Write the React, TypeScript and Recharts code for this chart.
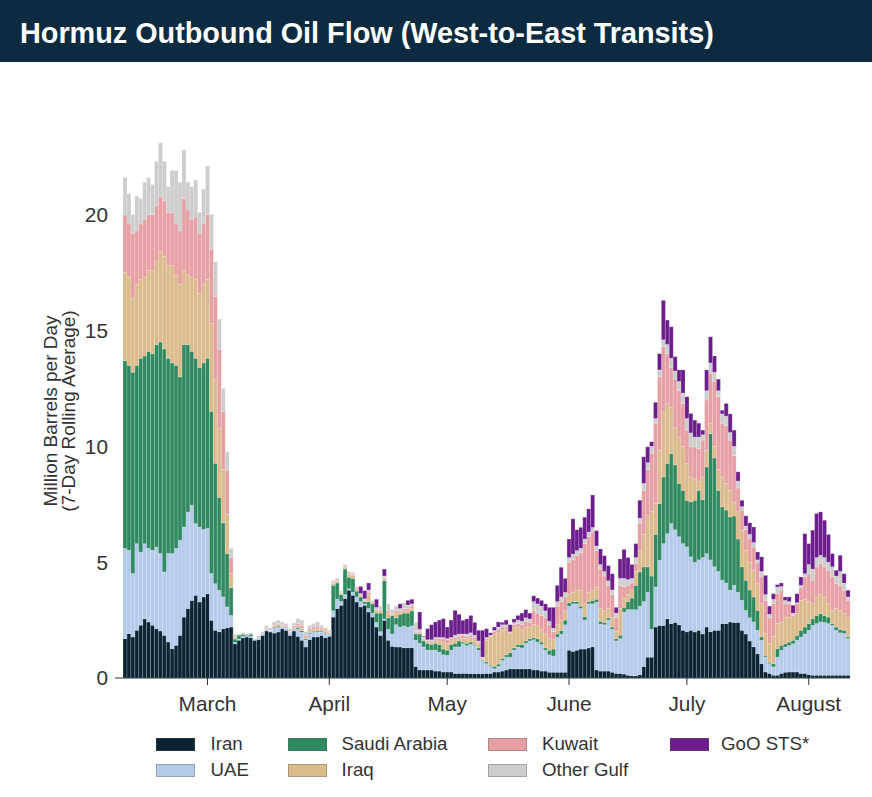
import React from 'react';
import { BarChart, Bar, XAxis, YAxis } from 'recharts';

const FONT = '"Liberation Sans", Arial, Helvetica, sans-serif';

// ---------- categories (one bar per day, Feb 8 -> Aug 11) ----------
const firstDay = Date.UTC(2026, 1, 8);
const dayCount = 185;
const dates: string[] = Array.from({ length: dayCount }, (_, i) =>
  new Date(firstDay + i * 86400000).toISOString().slice(0, 10)
);

const monthTicks = ['2026-03-01', '2026-04-01', '2026-05-01', '2026-06-01', '2026-07-01', '2026-08-01'];
const monthLabels = ['March', 'April', 'May', 'June', 'July', 'August'];
const yTicks = [0, 5, 10, 15, 20];

// ---------- series values (million b/d, 7-day rolling average) ----------
const iran = [
  1.70, 1.92, 1.77, 2.06, 2.28, 2.56, 2.42, 2.28, 2.13, 2.03, 1.84, 1.56, 1.27, 1.41, 1.84, 2.63, 3.00, 3.35, 3.57, 3.28, 3.50, 3.64,
  2.49, 2.06, 2.00, 2.13, 2.17, 2.20, 1.48,
  1.63, 1.74, 1.77, 1.74, 1.63, 1.66, 1.84, 2.03, 1.99, 1.94, 1.99, 2.13, 2.06, 1.84, 2.03, 1.80, 1.63, 1.34, 1.66, 1.77, 1.77, 1.84, 1.74, 1.80,
  2.63, 3.00, 3.14, 3.43, 3.79, 3.57, 3.28, 3.07, 3.14, 2.85, 2.63, 2.20, 1.84, 2.49, 1.63, 1.37, 1.34, 1.34, 1.31, 1.31, 1.31,
  0.50, 0.35, 0.35, 0.35, 0.35, 0.30, 0.30, 0.26, 0.26, 0.26, 0.20, 0.20, 0.20, 0.20, 0.19, 0.19, 0.19, 0.19, 0.20, 0.20, 0.26, 0.26, 0.30, 0.35, 0.40, 0.40, 0.40,
  0.40, 0.40, 0.40, 0.35, 0.35, 0.30, 0.30, 0.25, 0.25, 0.25, 0.25, 0.25, 1.20, 1.15, 1.20, 1.25, 1.25, 1.30, 1.35, 0.35, 0.30, 0.30, 0.30, 0.25, 0.20, 0.20,
  0.17, 0.12, 0.10, 0.10, 0.15, 0.50, 0.90, 0.90, 2.20, 2.27, 2.27, 2.56, 2.35, 2.40, 2.30, 2.06, 2.00, 2.06, 1.99, 2.06, 1.90, 2.20, 2.00, 2.06, 2.06, 2.35, 2.35, 2.42, 2.40, 2.40, 2.06, 1.90, 1.60, 1.35, 1.05,
  0.62, 0.26, 0.20, 0.12, 0.12, 0.20, 0.25, 0.26, 0.26, 0.26, 0.20, 0.20, 0.15, 0.12, 0.12, 0.12, 0.12, 0.12, 0.12, 0.12, 0.12, 0.12, 0.12,
];

const uae = [
  3.89, 3.59, 2.74, 3.74, 3.16, 3.24, 3.17, 3.23, 3.53, 3.34, 2.74, 3.81, 4.10, 4.18, 4.11, 3.89, 4.17, 4.11, 3.10, 3.24, 2.91, 2.81,
  2.02, 2.01, 1.79, 1.37, 0.90, 0.50, 0.05,
  0.05, 0.05, 0.03, 0.05, 0.02, 0.08, 0.06, 0.10, 0.06, 0.20, 0.20, 0.10, 0.10, 0.12, 0.12, 0.30, 0.35, 0.30, 0.25, 0.20, 0.22, 0.15, 0.15, 0.10,
  0.27, 0.40, 0.16, 0.17, 0.06, 0.13, 0.22, 0.23, 0.06, 0.15, 0.17, 0.20, 0.16, 0.06, 0.47, 0.53, 0.96, 0.86, 0.94, 0.89, 0.94,
  1.13, 1.15, 0.99, 0.85, 0.85, 0.90, 0.82, 0.74, 0.72, 0.94, 1.14, 1.14, 1.28, 1.20, 1.26, 1.21, 1.01, 0.57, 0.42, 0.30, 0.14, 0.24, 0.46, 0.55, 0.50, 0.80, 0.94,
  0.90, 1.10, 1.20, 1.30, 1.20, 1.15, 0.90, 0.75, 0.70, 1.51, 1.65, 2.05, 1.90, 2.05, 2.00, 1.75, 1.25, 1.90, 1.85, 2.92, 2.03, 2.00, 2.20, 1.85, 1.40, 1.50,
  2.68, 2.83, 2.85, 2.85, 2.95, 2.80, 2.80, 1.20, 1.73, 2.81, 3.53, 3.67, 4.32, 4.00, 3.80, 3.74, 3.66, 3.17, 3.00, 3.04, 3.30, 3.17, 3.10, 2.74, 2.54, 1.87, 1.75, 1.37, 1.60, 1.30, 1.29, 1.02, 1.00, 1.07, 1.01,
  1.01, 0.64, 0.42, 0.36, 0.78, 1.00, 1.09, 1.14, 1.22, 1.37, 1.57, 1.70, 1.91, 2.15, 2.23, 2.30, 2.28, 2.23, 2.15, 1.94, 1.83, 1.80, 1.58,
];

const saudiArabia = [
  8.11, 7.99, 8.69, 7.70, 8.36, 8.10, 8.51, 8.49, 8.74, 9.13, 9.62, 8.43, 8.23, 7.91, 7.05, 7.88, 7.23, 6.64, 7.13, 6.88, 7.19, 7.35,
  7.00, 5.20, 4.00, 3.20, 2.30, 1.20, 0.15,
  0.17, 0.10, 0.05, 0.10, 0.00, 0.00, 0.00, 0.00, 0.00, 0.05, 0.05, 0.00, 0.00, 0.00, 0.00, 0.06, 0.07, 0.05, 0.05, 0.05, 0.05, 0.04, 0.04, 0.00,
  1.10, 0.70, 0.30, 1.10, 0.50, 0.60, 0.25, 0.20, 0.10, 0.30, 0.40, 0.40, 0.80, 1.65, 0.50, 0.80, 0.30, 0.55, 0.55, 0.60, 0.65,
  0.27, 0.40, 0.26, 0.30, 0.25, 0.30, 0.33, 0.25, 0.22, 0.25, 0.16, 0.26, 0.07, 0.10, 0.10, 0.05, 0.10, 0.04, 0.08, 0.05, 0.10, 0.10, 0.09, 0.10, 0.20, 0.10, 0.11,
  0.15, 0.10, 0.10, 0.10, 0.15, 0.10, 0.10, 0.20, 0.30, 0.14, 0.15, 0.20, 0.15, 0.10, 0.10, 0.10, 0.15, 0.10, 0.15, 0.13, 0.12, 0.10, 0.10, 0.10, 0.10, 0.15,
  0.20, 0.35, 0.50, 1.05, 1.48, 1.50, 1.10, 2.30, 2.27, 2.45, 2.88, 3.03, 3.02, 2.80, 2.30, 2.30, 2.01, 2.37, 2.68, 3.00, 2.50, 3.74, 5.45, 4.70, 3.50, 3.17, 3.15, 3.16, 3.00, 2.30, 1.45, 1.30, 1.20, 1.08, 0.86,
  0.14, 0.05, 0.06, 0.14, 0.37, 0.21, 0.14, 0.15, 0.15, 0.21, 0.29, 0.30, 0.29, 0.29, 0.35, 0.36, 0.30, 0.28, 0.08, 0.14, 0.15, 0.14, 0.07,
];

const iraq = [
  3.8, 3.8, 3.2, 3.5, 3.4, 3.4, 3.5, 3.6, 3.6, 3.9, 4.0, 4.0, 4.2, 3.9, 4.0, 3.2, 3.0, 3.2, 3.4, 3.2, 3.4, 3.4,
  3.8, 3.6, 3.0, 2.3, 1.7, 0.6, 0.05,
  0.00, 0.00, 0.00, 0.00, 0.00, 0.00, 0.04, 0.04, 0.03, 0.05, 0.06, 0.05, 0.05, 0.05, 0.06, 0.10, 0.10, 0.08, 0.08, 0.10, 0.10, 0.08, 0.08, 0.05,
  0.08, 0.07, 0.05, 0.08, 0.12, 0.12, 0.08, 0.05, 0.04, 0.30, 0.05, 0.10, 0.10, 0.10, 0.20, 0.05, 0.20, 0.10, 0.10, 0.10, 0.10,
  0.05, 0.05, 0.05, 0.05, 0.10, 0.10, 0.15, 0.30, 0.30, 0.15, 0.15, 0.10, 0.15, 0.20, 0.20, 0.20, 0.20, 0.05, 0.93, 1.22, 1.40, 1.35, 1.21, 1.10, 0.80, 0.90, 0.75,
  0.65, 0.60, 0.50, 0.55, 0.55, 0.55, 0.60, 0.50, 0.40, 0.40, 0.45, 0.40, 0.35, 0.40, 0.50, 0.70, 0.55, 0.40, 0.45, 0.50, 0.55, 0.50, 0.40, 0.40, 0.30, 1.15,
  0.40, 0.30, 0.35, 0.60, 0.92, 1.40, 2.20, 2.80, 1.33, 2.30, 2.80, 2.60, 2.00, 1.60, 2.00, 1.90, 1.59, 1.08, 0.93, 0.40, 0.98, 0.72, 0.45, 0.50, 0.90, 1.29, 1.15, 1.15, 0.60, 1.20, 1.58, 1.29, 1.20, 1.15, 1.15,
  1.44, 0.97, 0.82, 1.18, 1.08, 0.99, 1.15, 1.08, 1.07, 0.94, 1.29, 1.20, 0.95, 0.65, 0.80, 0.82, 0.80, 0.58, 0.57, 0.80, 0.80, 0.72, 0.86,
];

const kuwait = [
  2.5, 2.3, 2.8, 2.3, 2.4, 2.5, 2.4, 2.4, 2.4, 2.4, 2.4, 2.3, 2.3, 2.2, 2.3, 3.1, 2.8, 2.5, 2.7, 2.6, 2.6, 2.8,
  3.2, 3.6, 3.4, 2.5, 1.9, 0.7, 0.05,
  0.00, 0.00, 0.00, 0.00, 0.00, 0.00, 0.00, 0.03, 0.00, 0.04, 0.05, 0.04, 0.04, 0.00, 0.05, 0.10, 0.10, 0.08, 0.08, 0.08, 0.10, 0.06, 0.06, 0.03,
  0.05, 0.05, 0.03, 0.05, 0.05, 0.05, 0.05, 0.03, 0.03, 0.10, 0.03, 0.05, 0.05, 0.05, 0.10, 0.05, 0.10, 0.05, 0.10, 0.10, 0.10,
  0.05, 0.05, 0.05, 0.05, 0.05, 0.10, 0.10, 0.15, 0.15, 0.10, 0.10, 0.10, 0.15, 0.10, 0.10, 0.10, 0.05, 0.03, 0.07, 0.03, 0.10, 0.15, 0.14, 0.10, 0.05, 0.10, 0.15,
  0.20, 0.25, 0.20, 0.60, 0.55, 0.60, 0.70, 0.60, 0.35, 0.80, 0.80, 0.60, 1.40, 1.40, 1.50, 1.60, 2.60, 2.40, 2.50, 1.60, 1.70, 1.50, 1.00, 1.00, 0.60, 1.00,
  0.50, 0.40, 0.30, 0.35, 1.17, 1.90, 2.00, 2.50, 3.47, 3.17, 2.82, 2.14, 1.71, 2.10, 2.00, 1.85, 1.44, 1.30, 1.38, 1.40, 1.59, 2.17, 2.15, 2.80, 3.14, 2.32, 2.50, 2.17, 2.00, 1.00, 0.86, 0.90, 1.00, 1.00, 0.90,
  1.15, 1.43, 1.10, 1.41, 1.29, 1.39, 0.57, 0.57, 0.05, 0.43, 0.55, 0.96, 1.20, 1.01, 1.30, 1.34, 1.30, 1.44, 1.44, 1.07, 1.10, 1.01, 0.72,
];

const otherGulf = [
  1.6, 1.3, 0.8, 1.5, 1.1, 1.6, 1.6, 1.3, 1.9, 2.3, 1.7, 1.1, 1.8, 2.3, 2.1, 2.1, 1.2, 1.4, 1.6, 0.9, 1.5, 2.1,
  1.5, 1.5, 1.3, 1.0, 0.8, 0.4, 0.10,
  0.05, 0.06, 0.05, 0.06, 0.05, 0.10, 0.06, 0.07, 0.09, 0.14, 0.15, 0.10, 0.10, 0.12, 0.12, 0.20, 0.25, 0.15, 0.15, 0.15, 0.18, 0.10, 0.10, 0.08,
  0.07, 0.08, 0.07, 0.07, 0.08, 0.08, 0.07, 0.07, 0.05, 0.10, 0.05, 0.10, 0.15, 0.05, 0.30, 0.15, 0.20, 0.10, 0.25, 0.15, 0.10,
  0.40, 0.10, 0.07, 0.05, 0.05, 0.05, 0.05, 0.05, 0.05, 0.05, 0.10, 0.10, 0.05, 0.10, 0.10, 0.10, 0.05, 0.02, 0.05, 0.05, 0.05, 0.10, 0.10, 0.10, 0.05, 0.10, 0.15,
  0.15, 0.15, 0.15, 0.40, 0.40, 0.40, 0.30, 0.15, 0.15, 0.20, 0.20, 0.20, 0.20, 0.25, 0.20, 0.20, 0.20, 0.20, 0.20, 0.20, 0.20, 0.20, 0.20, 0.20, 0.20, 0.30,
  0.35, 0.25, 0.20, 0.25, 0.23, 0.30, 0.30, 0.30, 0.20, 0.30, 0.30, 0.40, 0.40, 0.35, 0.40, 0.45, 0.50, 0.60, 0.42, 0.50, 0.23, 0.40, 0.45, 0.40, 0.26, 0.40, 0.40, 0.33, 0.40, 0.30, 0.16, 0.15, 0.20, 0.20, 0.13,
  0.24, 0.25, 0.15, 0.19, 0.29, 0.16, 0.15, 0.10, 0.05, 0.04, 0.10, 0.14, 0.40, 0.48, 0.40, 0.36, 0.40, 0.35, 0.44, 0.33, 0.60, 0.31, 0.15,
];

const gooSts = [
  0, 0, 0, 0, 0, 0, 0, 0, 0, 0, 0, 0, 0, 0, 0, 0, 0, 0, 0, 0, 0, 0,
  0, 0, 0, 0, 0, 0, 0,
  0, 0, 0, 0, 0, 0, 0, 0, 0, 0, 0, 0, 0, 0, 0, 0, 0, 0, 0, 0, 0, 0, 0, 0,
  0, 0, 0, 0, 0, 0, 0, 0.30, 0.35, 0.30, 0, 0.35, 0, 0.30, 0, 0, 0, 0.20, 0, 0.20, 0.20,
  0, 0.75, 0.03, 0.48, 0.65, 0.67, 0.75, 0.81, 0.50, 0.75, 1.07, 0.85, 0.59, 0.65, 0.75, 0.55, 0.46, 1.16, 0.38, 0.10, 0.15, 0.22, 0.10, 0.20, 0.30, 0.15, 0.20,
  0.35, 0.35, 0.25, 0.25, 0.25, 0.25, 0.30, 0.60, 0.90, 0.70, 1.28, 0.60, 0.80, 1.52, 0.90, 0.90, 0.94, 1.00, 1.40, 0.66, 0.67, 0.68, 0.65, 0.70, 0.25, 0.84,
  1.25, 0.95, 0.60, 0.60, 0.77, 1.15, 0.68, 0.20, 0.70, 0.70, 1.70, 1.05, 1.36, 0.62, 0.50, 1.00, 0.94, 0.84, 0.73, 0.60, 0.20, 0.90, 1.13, 0.70, 0.50, 0.16, 0.55, 0.80, 0.70, 0.40, 0.27, 0.44, 0.50, 0.67, 0.34,
  0.63, 0.83, 0.35, 0.24, 0.10, 0.15, 0.15, 0.20, 0.34, 0.39, 0.36, 1.73, 0.90, 1.68, 1.90, 1.87, 1.61, 1.20, 0.57, 0.25, 0.70, 0.40, 0.29,
];

const seriesNames = ['Iran', 'UAE', 'Saudi Arabia', 'Iraq', 'Kuwait', 'Other Gulf', 'GoO STS*'];
const seriesKeys = ['iran', 'uae', 'saudi', 'iraq', 'kuwait', 'other', 'goo'];
const seriesColors = ['#0b2434', '#b3caeb', '#2f8a60', '#dbbb8b', '#e69fa3', '#cdcdcd', '#6b1d8c'];
const seriesValues = [iran, uae, saudiArabia, iraq, kuwait, otherGulf, gooSts];

// table for the library
const data = dates.map((date, i) => {
  const row: Record<string, number | string> = { date };
  seriesKeys.forEach((k, s) => {
    row[k] = seriesValues[s][i] ?? 0;
  });
  return row;
});

const monthName: Record<string, string> = {};
monthTicks.forEach((t, i) => {
  monthName[t] = monthLabels[i];
});

// legend arrangement (column-major, like the reference)
const legendColumns = [[0, 1], [2, 3], [4, 5], [6]];

const YLabel = (props: any) => {
  const vb = props && props.viewBox ? props.viewBox : { y: 122, height: 556 };
  const cy = vb.y + vb.height / 2 + 11;
  const common = {
    textAnchor: 'middle' as const,
    dominantBaseline: 'central' as const,
    fontSize: 19,
    fill: '#333333',
    fontFamily: FONT,
  };
  return (
    <g>
      <text x={50} y={cy} transform={`rotate(-90, 50, ${cy})`} {...common}>
        Million Barrels per Day
      </text>
      <text x={68.5} y={cy} transform={`rotate(-90, 68.5, ${cy})`} {...common}>
        (7-Day Rolling Average)
      </text>
    </g>
  );
};

export default function App() {
  const colSwatchX = [156, 287.5, 488, 669.5];
  const colTextX = [210.5, 341.5, 542, 721];
  const rowY = [744, 770];

  return (
    <div
      style={{
        position: 'absolute',
        left: 0,
        top: 0,
        width: 872,
        height: 797,
        background: '#ffffff',
        overflow: 'hidden',
        fontFamily: FONT,
      }}
    >
      <div style={{ position: 'absolute', left: 0, top: 0 }}>
        <BarChart
          width={872}
          height={797}
          data={data}
          margin={{ top: 122, right: 22, bottom: 89, left: 0 }}
          barCategoryGap={0}
          barGap={0}
        >
          <XAxis
            dataKey="date"
            ticks={monthTicks}
            interval={0}
            tickFormatter={(v: string) => monthName[v] ?? ''}
            height={30}
            padding={{ left: 8, right: 0 }}
            tickSize={7}
            tickMargin={11}
            tick={{ fontSize: 20.8, fill: '#333333', fontFamily: FONT }}
            axisLine={{ stroke: '#333333', strokeWidth: 1 }}
            tickLine={{ stroke: '#333333', strokeWidth: 1 }}
          />
          <YAxis
            type="number"
            domain={[0, 24]}
            ticks={yTicks}
            width={115}
            axisLine={false}
            tickLine={false}
            tickSize={5}
            tickMargin={2}
            allowDataOverflow
            tick={{ fontSize: 20.8, fill: '#333333', fontFamily: FONT }}
            label={{ content: YLabel }}
          />
          {seriesKeys.map((k, s) => (
            <Bar
              key={k}
              dataKey={k}
              name={seriesNames[s]}
              stackId="flow"
              fill={seriesColors[s]}
              stroke="#ffffff"
              strokeOpacity={0.4}
              strokeWidth={0.5}
              isAnimationActive={false}
            />
          ))}
        </BarChart>
      </div>

      <div
        style={{
          position: 'absolute',
          left: 0,
          top: 0,
          width: 872,
          height: 62,
          background: '#0c2b40',
        }}
      >
        <span
          style={{
            position: 'absolute',
            left: 20,
            top: 19,
            fontSize: 28.8,
            lineHeight: '28.8px',
            fontWeight: 700,
            color: '#ffffff',
            whiteSpace: 'nowrap',
            fontFamily: FONT,
          }}
        >
          Hormuz Outbound Oil Flow (West-to-East Transits)
        </span>
      </div>

      {legendColumns.map((col, ci) =>
        col.map((s, ri) => (
          <React.Fragment key={seriesKeys[s]}>
            <div
              style={{
                position: 'absolute',
                left: colSwatchX[ci],
                top: rowY[ri] - 6.5,
                width: 39,
                height: 13,
                boxSizing: 'border-box',
                background: seriesColors[s],
                border: '1px solid rgba(90,90,90,0.35)',
              }}
            />
            <div
              style={{
                position: 'absolute',
                left: colTextX[ci],
                top: rowY[ri] - 12,
                height: 24,
                lineHeight: '24px',
                fontSize: 18.7,
                color: '#333333',
                whiteSpace: 'nowrap',
                fontFamily: FONT,
              }}
            >
              {seriesNames[s]}
            </div>
          </React.Fragment>
        ))
      )}
    </div>
  );
}
